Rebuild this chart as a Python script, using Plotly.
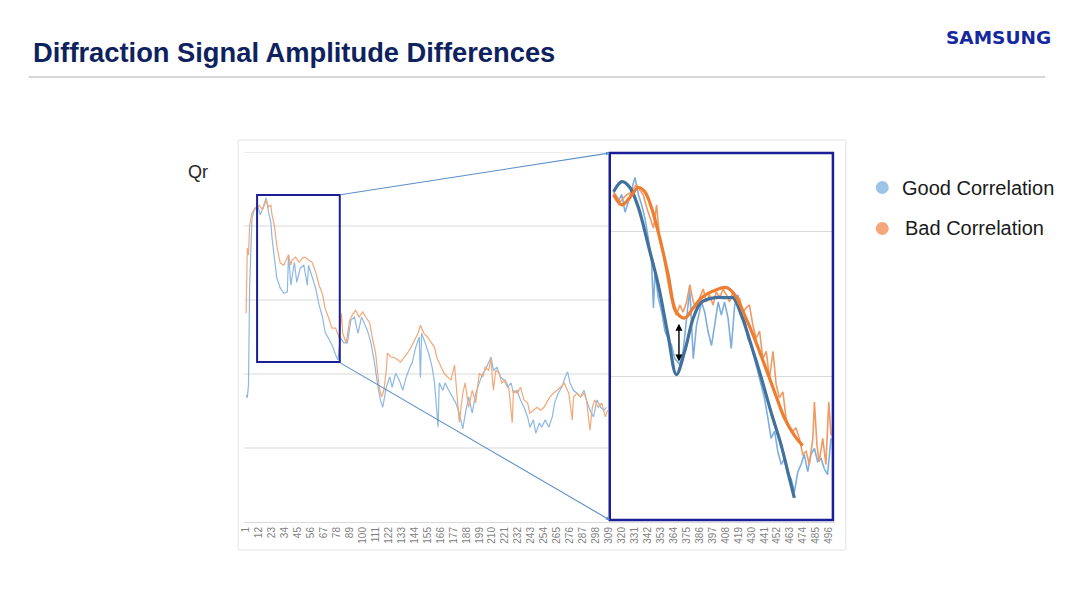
import plotly.graph_objects as go

# the page body adds an 8 px margin, so the figure is drawn 8 px in from the top-left
OFF = 8
W, H = 1080 - OFF, 608 - OFF

# ---------------- data ----------------
tick_labels = [1, 12, 23, 34, 45, 56, 67, 78, 89, 100, 111, 122, 133, 144, 155, 166,
               177, 188, 199, 210, 221, 232, 243, 254, 265, 276, 287, 298, 309, 320,
               331, 342, 353, 364, 375, 386, 397, 408, 419, 430, 441, 452, 463, 474,
               485, 496]

good_x = [1, 2, 3, 4, 6, 8, 11, 13, 16, 18, 20, 22, 23, 25, 26, 27, 30, 33, 36, 37,
          39, 42, 44, 47, 50, 53, 54, 57, 60, 63, 66, 68, 71, 74, 77, 79, 81, 84, 87, 90,
          93, 96, 99, 101, 104, 107, 110, 113, 115, 117, 120, 123, 125, 128, 131, 134, 137, 140, 142, 145,
          148, 149, 150, 153, 156, 159, 161, 164, 165, 168, 170, 173, 176, 179, 182, 185, 187, 190, 193, 196, 199,
          202, 204, 207, 209, 211, 214, 217, 220, 223, 226, 228, 231, 234, 237, 240, 242, 245, 247, 250, 252,
          255, 258, 261, 263, 266, 269, 272, 274, 276, 279, 282, 285, 288, 290, 293, 296, 299, 302, 305, 307]
good_y = [1.72, 1.68, 1.85, 3.20, 4.11, 4.22, 4.26, 4.15, 4.28, 4.38, 4.19, 4.05, 3.84, 3.57, 3.43, 3.30, 3.16, 3.09, 3.11, 3.61,
          3.20, 3.51, 3.24, 3.43, 3.47, 3.20, 3.47, 3.30, 3.16, 2.93, 2.76, 2.57, 2.49, 2.39, 2.26, 2.19, 2.49, 2.42, 2.42, 2.73,
          2.77, 2.55, 2.77, 2.69, 2.59, 2.42, 2.15, 1.82, 1.65, 1.55, 1.82, 1.96, 1.82, 2.01, 1.92, 1.78, 1.96, 2.09, 2.15, 2.36,
          2.50, 1.95, 2.55, 2.42, 2.28, 2.09, 1.88, 1.28, 1.88, 1.78, 1.88, 1.78, 1.69, 1.61, 1.47, 1.26, 1.45, 1.69, 1.47, 1.74, 1.88,
          2.01, 2.05, 2.15, 2.23, 2.05, 2.09, 1.96, 1.92, 1.82, 1.88, 1.74, 1.78, 1.65, 1.55, 1.42, 1.28, 1.38, 1.20, 1.34, 1.28,
          1.38, 1.28, 1.42, 1.61, 1.74, 1.82, 1.96, 2.03, 1.88, 1.78, 1.74, 1.69, 1.78, 1.65, 1.51, 1.42, 1.65, 1.55, 1.51, 1.55]

bad_x = [1, 2, 3, 4, 6, 9, 12, 15, 18, 20, 22, 23, 25, 26, 27, 29, 30, 33, 35, 37,
         39, 40, 43, 46, 49, 51, 54, 57, 60, 63, 66, 68, 71, 74, 77, 80, 82, 83, 86, 89,
         92, 94, 97, 100, 103, 106, 108, 111, 113, 114, 116, 118, 120, 121, 124, 127, 130, 132, 135, 138,
         141, 144, 147, 149, 152, 155, 158, 161, 163, 166, 169, 172, 175, 178, 179, 182, 185, 187, 190, 193,
         196, 199, 202, 204, 207, 209, 210, 211, 213, 216, 218, 221, 224, 227, 228, 231, 234, 237, 240, 242,
         245, 248, 251, 254, 256, 259, 262, 265, 268, 271, 273, 275, 278, 279, 282, 285, 288, 290, 293, 295,
         297, 300, 303, 306, 308]
bad_y = [2.82, 3.70, 3.61, 4.01, 4.18, 4.25, 4.28, 4.22, 4.35, 4.26, 4.28, 4.15, 4.01, 3.88, 3.74, 3.57, 3.50, 3.47, 3.54, 3.61,
         3.47, 3.54, 3.58, 3.51, 3.57, 3.58, 3.54, 3.51, 3.38, 3.20, 3.07, 2.89, 2.76, 2.62, 2.62, 2.49, 2.82, 2.55, 2.42, 2.73,
         2.82, 2.86, 2.77, 2.84, 2.76, 2.69, 2.50, 2.28, 1.96, 1.82, 1.69, 1.78, 2.05, 2.28, 2.23, 2.22, 2.19, 2.16, 2.22, 2.28,
         2.36, 2.46, 2.55, 2.66, 2.55, 2.50, 2.43, 2.36, 2.22, 2.12, 2.01, 1.96, 1.92, 2.12, 1.92, 1.35, 1.74, 1.88, 1.55, 1.78,
         1.61, 2.01, 1.96, 2.09, 2.05, 2.22, 1.96, 1.78, 2.05, 2.01, 1.88, 1.92, 1.82, 1.34, 1.78, 1.74, 1.82, 1.65, 1.61, 1.47,
         1.51, 1.55, 1.51, 1.55, 1.61, 1.69, 1.74, 1.78, 1.82, 1.88, 1.82, 1.74, 1.38, 1.69, 1.74, 1.69, 1.74, 1.65, 1.24, 1.55,
         1.65, 1.55, 1.61, 1.42, 1.51]

# zoomed inset (magnified view of the first part of the signal)
inset_good_x = [11.2, 12.7, 13.8, 14.8, 15.8, 16.9, 17.9, 19.0, 20.0, 21.0, 22.1, 23.1, 23.7, 24.2, 25.2, 26.3, 27.3, 28.3, 29.4, 30.4,
                32.0, 33.0, 34.1, 35.1, 36.2, 37.2, 38.8, 39.8, 40.8, 41.9, 42.9, 44.0, 45.0, 46.0, 47.1, 48.1, 49.2, 50.2, 51.3, 52.3,
                53.3, 54.4, 55.4, 56.5, 57.5, 58.5, 59.6, 60.6, 61.7, 62.7, 63.8, 64.8, 65.8, 66.9, 67.9, 69.0, 70.0, 71.0, 72.1, 73.1,
                74.2, 75.2, 76.3, 77.3, 78.3, 79.4]
inset_good_y = [3.26, 3.21, 3.25, 3.13, 3.20, 3.29, 3.37, 3.25, 3.18, 3.09, 2.95, 2.79, 2.47, 2.72, 2.54, 2.44, 2.31, 2.26, 2.21, 2.12,
                2.08, 2.17, 2.40, 2.60, 2.12, 2.35, 2.51, 2.44, 2.31, 2.21, 2.35, 2.51, 2.42, 2.51, 2.40, 2.19, 2.49, 2.56, 2.40, 2.40,
                2.26, 2.21, 2.12, 2.03, 1.94, 1.85, 1.71, 1.57, 1.62, 1.48, 1.39, 1.43, 1.32, 1.29, 1.20, 1.34, 1.39, 1.46, 1.34, 1.46,
                1.50, 1.41, 1.43, 1.36, 1.32, 1.57]

inset_bad_x = [11.2, 12.2, 13.2, 14.3, 15.3, 16.3, 17.4, 18.4, 19.5, 20.5, 21.6, 22.6, 23.7, 24.7, 25.7, 26.8, 27.8, 28.8, 29.9, 30.9,
               32.0, 33.0, 34.1, 35.1, 36.2, 37.2, 38.2, 39.3, 40.3, 41.3, 42.4, 43.4, 44.5, 45.5, 46.6, 47.6, 48.7, 49.7, 50.7, 51.8,
               52.8, 53.8, 54.9, 55.9, 57.0, 58.0, 59.1, 60.1, 61.2, 62.2, 63.2, 64.3, 65.3, 66.3, 67.4, 68.4, 69.5, 70.5, 71.6, 72.6,
               73.7, 74.2, 75.0, 75.7, 76.8, 77.8, 78.7, 79.4]
inset_bad_y = [3.27, 3.24, 3.20, 3.23, 3.25, 3.26, 3.29, 3.32, 3.28, 3.25, 3.16, 3.09, 3.02, 3.18, 2.93, 2.83, 2.70, 2.58, 2.47, 2.42,
               2.49, 2.44, 2.51, 2.63, 2.51, 2.47, 2.54, 2.60, 2.51, 2.56, 2.49, 2.58, 2.54, 2.60, 2.56, 2.51, 2.58, 2.49, 2.54, 2.44,
               2.47, 2.49, 2.35, 2.26, 2.31, 2.12, 2.17, 1.98, 2.17, 1.94, 1.85, 1.89, 1.71, 1.64, 1.62, 1.64, 1.57, 1.46, 1.48, 1.39,
               1.57, 1.82, 1.52, 1.41, 1.57, 1.39, 1.82, 1.59]

fit_good_x = [11.2, 13.8, 16.3, 19.0, 22.1, 25.2, 28.3, 30.9, 33.5, 36.2, 38.8, 42.9, 47.1, 48.7, 51.3, 54.4, 57.5, 60.6, 63.8, 66.3, 67.9]
fit_good_y = [3.27, 3.34, 3.30, 3.16, 2.90, 2.63, 2.28, 2.01, 2.17, 2.40, 2.51, 2.54, 2.54, 2.54, 2.42, 2.21, 1.99, 1.75, 1.52, 1.30, 1.16]

fit_bad_x = [11.2, 13.8, 16.3, 19.0, 21.0, 23.1, 25.7, 28.3, 30.9, 33.5, 36.2, 38.8, 42.9, 46.6, 49.2, 52.3, 55.4, 58.5, 61.7, 64.8, 67.9, 70.5]
fit_bad_y = [3.25, 3.18, 3.23, 3.30, 3.27, 3.16, 2.95, 2.70, 2.44, 2.40, 2.47, 2.54, 2.59, 2.61, 2.56, 2.42, 2.26, 2.08, 1.89, 1.71, 1.59, 1.52]

series_names = ["Good Correlation", "Bad Correlation"]

# ---------------- styling ----------------
FONT = "Liberation Sans, Arial, sans-serif"
C_GOOD = "#8DB8E3"
C_BAD = "#F2A878"
C_GOOD_IN = "#7EAEDD"
C_BAD_IN = "#F09A63"
C_GOOD_FIT = "#41719C"
C_BAD_FIT = "#ED7D31"
NAVY = "#1A1F96"
GRID = "#D9D9D9"


def fx(p):
    """reference-screen x pixel -> paper fraction"""
    return (p - OFF) / W


def fy(p):
    """reference-screen y pixel -> paper fraction"""
    return 1 - (p - OFF) / H


fig = go.Figure()

# main chart
fig.add_trace(go.Scatter(x=good_x, y=good_y, mode="lines", name=series_names[0],
                         line=dict(color=C_GOOD, width=1.2), showlegend=False,
                         xaxis="x", yaxis="y"))
fig.add_trace(go.Scatter(x=bad_x, y=bad_y, mode="lines", name=series_names[1],
                         line=dict(color=C_BAD, width=1.2), showlegend=False,
                         xaxis="x", yaxis="y"))

# inset
fig.add_trace(go.Scatter(x=inset_good_x, y=inset_good_y, mode="lines", showlegend=False,
                         line=dict(color=C_GOOD_IN, width=1.6), xaxis="x2", yaxis="y2"))
fig.add_trace(go.Scatter(x=inset_bad_x, y=inset_bad_y, mode="lines", showlegend=False,
                         line=dict(color=C_BAD_IN, width=1.6), xaxis="x2", yaxis="y2"))
fig.add_trace(go.Scatter(x=fit_good_x, y=fit_good_y, mode="lines", showlegend=False,
                         line=dict(color=C_GOOD_FIT, width=3.2, shape="spline"), xaxis="x2", yaxis="y2"))
fig.add_trace(go.Scatter(x=fit_bad_x, y=fit_bad_y, mode="lines", showlegend=False,
                         line=dict(color=C_BAD_FIT, width=3.2, shape="spline"), xaxis="x2", yaxis="y2"))

# axes geometry (reference pixels)
PL, PR, PT, PB = 241, 834, 152, 522
IL, IR, IT, IB = 608, 832, 153, 520
X_PER_PX = 1 / 1.182
xr0 = 1 + (PL - 243) * X_PER_PX
xr1 = 1 + (PR - 243) * X_PER_PX

fig.update_layout(
    width=W, height=H, autosize=False,
    margin=dict(l=0, r=0, t=0, b=0),
    paper_bgcolor="white", plot_bgcolor="rgba(0,0,0,0)",
    font=dict(family=FONT),
    xaxis=dict(domain=[fx(PL), fx(PR)], range=[xr0, xr1], tickmode="array",
               tickvals=tick_labels, ticktext=[str(t) for t in tick_labels],
               tickangle=-90, tickfont=dict(size=10, color="#7F7F7F", family=FONT),
               showgrid=False, zeroline=False, showline=True, linecolor=GRID,
               linewidth=1, ticks="", fixedrange=True),
    yaxis=dict(domain=[fy(PB), fy(PT)], range=[0, 5], showgrid=False,
               zeroline=False, showticklabels=False, showline=False, fixedrange=True),
    xaxis2=dict(domain=[fx(IL), fx(IR)], range=[10, 80], anchor="y2",
                showgrid=False, zeroline=False, showticklabels=False,
                showline=False, fixedrange=True),
    yaxis2=dict(domain=[fy(IB), fy(IT)], range=[2 - (IB - 376) / 145, 2 + (376 - IT) / 145],
                anchor="x2", tickmode="array", tickvals=[2, 3], showgrid=True,
                gridcolor=GRID, gridwidth=1, zeroline=False, showticklabels=False,
                showline=False, fixedrange=True),
)

shapes = []
# chart-area frame
shapes.append(dict(type="rect", xref="paper", yref="paper", x0=fx(235), x1=fx(845),
                   y0=fy(550), y1=fy(140), line=dict(color="#E3E3E3", width=1), layer="below"))
# main gridlines (stop at the inset)
for gy in [1, 2, 3, 4, 5]:
    shapes.append(dict(type="line", xref="paper", yref="y", x0=fx(PL), x1=fx(IL),
                       y0=gy, y1=gy, line=dict(color=GRID, width=1), layer="below"))
# zoom box on main chart
bx0, bx1 = 1 + (254 - 243) * X_PER_PX, 1 + (337 - 243) * X_PER_PX
by0, by1 = (PB - 362) / 74, (PB - 195) / 74
shapes.append(dict(type="rect", xref="x", yref="y", x0=bx0, x1=bx1, y0=by0, y1=by1,
                   line=dict(color=NAVY, width=2)))
# inset border
shapes.append(dict(type="rect", xref="paper", yref="paper", x0=fx(IL), x1=fx(IR),
                   y0=fy(IB), y1=fy(IT), line=dict(color=NAVY, width=2.5)))
# header separator
shapes.append(dict(type="line", xref="paper", yref="paper", x0=fx(25), x1=fx(1045),
                   y0=fy(77), y1=fy(77), line=dict(color="#C8C8C8", width=1.5)))
# legend dots
shapes.append(dict(type="circle", xref="paper", yref="paper", x0=fx(875), x1=fx(888),
                   y0=fy(194), y1=fy(181), fillcolor="#9DC3E6", line=dict(width=0)))
shapes.append(dict(type="circle", xref="paper", yref="paper", x0=fx(875), x1=fx(888),
                   y0=fy(235), y1=fy(222), fillcolor="#F4A77A", line=dict(width=0)))
fig.update_layout(shapes=shapes)

ann = []
# connectors from zoom box to inset
ann.append(dict(xref="paper", yref="paper", x=fx(IL), y=fy(IT), ax=337 - IL, ay=195 - IT,
                axref="pixel", ayref="pixel", text="", showarrow=True, arrowhead=2,
                arrowsize=0.7, arrowwidth=1.1, arrowcolor="#5B8FC9"))
ann.append(dict(xref="paper", yref="paper", x=fx(IL), y=fy(IB), ax=337 - IL, ay=362 - IB,
                axref="pixel", ayref="pixel", text="", showarrow=True, arrowhead=2,
                arrowsize=0.7, arrowwidth=1.1, arrowcolor="#5B8FC9"))
# double arrow in inset
ann.append(dict(xref="x2", yref="y2", x=31.7, y=2.10, axref="x2", ayref="y2", ax=31.7, ay=2.37,
                text="", showarrow=True, arrowhead=2, startarrowhead=2, arrowside="end+start",
                arrowsize=1, arrowwidth=1.4, arrowcolor="black"))
# texts
ann.append(dict(xref="paper", yref="paper", x=fx(27), y=fy(53), xanchor="left", yanchor="middle",
                text="<b>Diffraction Signal Amplitude Differences</b>", showarrow=False,
                font=dict(family=FONT, size=27.3, color="#0E225E")))
ann.append(dict(xref="paper", yref="paper", x=fx(1053), y=fy(37), xanchor="right", yanchor="middle",
                text="<b>SAMSUNG</b>", showarrow=False,
                font=dict(family="DejaVu Sans, Liberation Sans, sans-serif", size=18.5, color="#1428A0")))
ann.append(dict(xref="paper", yref="paper", x=fx(183), y=fy(172), xanchor="left", yanchor="middle",
                text="Qr", showarrow=False, font=dict(family=FONT, size=18, color="#262626")))
ann.append(dict(xref="paper", yref="paper", x=fx(899), y=fy(188), xanchor="left", yanchor="middle",
                text=series_names[0], showarrow=False, font=dict(family=FONT, size=20, color="#1A1A1A")))
ann.append(dict(xref="paper", yref="paper", x=fx(902), y=fy(228), xanchor="left", yanchor="middle",
                text=series_names[1], showarrow=False, font=dict(family=FONT, size=20, color="#1A1A1A")))
fig.update_layout(annotations=ann)

fig.write_html("out.html")
